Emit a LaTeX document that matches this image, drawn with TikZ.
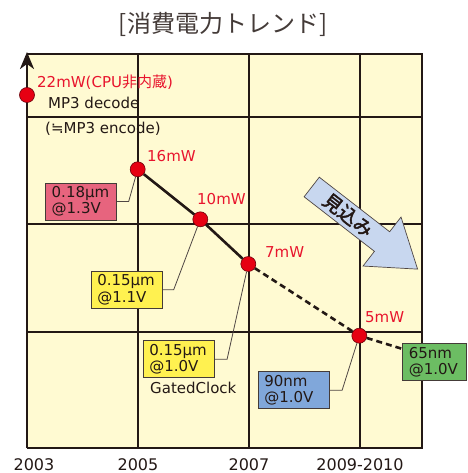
\documentclass[tikz,border=0pt]{standalone}
\usepackage{fontspec}
\setmainfont{DejaVu Sans}
\newfontfamily\jp[AutoFakeBold=2.5]{Noto Sans CJK JP}
\usetikzlibrary{arrows.meta}
\definecolor{chartbg}{RGB}{255,250,210}
\definecolor{inkdark}{RGB}{35,24,21}
\definecolor{dotred}{RGB}{230,0,18}
\definecolor{dotedge}{RGB}{110,0,10}
\definecolor{labelred}{RGB}{232,20,45}
\definecolor{boxpink}{RGB}{231,100,126}
\definecolor{boxyellow}{RGB}{255,241,80}
\definecolor{boxblue}{RGB}{128,167,218}
\definecolor{boxgreen}{RGB}{108,189,99}
\definecolor{arrowblue}{RGB}{200,215,239}
\tikzset{
  frame/.style={inkdark, line width=2.6pt},
  gridline/.style={inkdark, line width=1.2pt},
  trend/.style={inkdark, line width=2.6pt},
  lead/.style={inkdark!80, line width=0.8pt},
  dot/.style={circle, fill=dotred, draw=dotedge, line width=0.6pt, minimum size=15pt, inner sep=0pt},
  value/.style={labelred, anchor=west, inner sep=0pt, font=\fontsize{15}{15}\selectfont},
  note/.style={inkdark, anchor=west, inner sep=0pt, font=\fontsize{15}{15}\selectfont},
  year/.style={inkdark, anchor=base, inner sep=0pt, text depth=0pt, font=\fontsize{16}{16}\selectfont},
  procbox/.style={draw=inkdark!85, line width=0.8pt, minimum height=37pt, text width=59pt,
    inner xsep=6pt, inner ysep=0pt, align=left, text=inkdark, font=\fontsize{15}{16.5}\selectfont},
  forecast/.style={fill=arrowblue, draw=inkdark!80, line width=0.7pt}
}
\begin{document}
\begin{tikzpicture}[x=1pt,y=1pt]
	\useasboundingbox (0,0) rectangle (467,-473);
	%Titolo
	\node[inkdark!85, font=\jp\fontsize{24}{24}\selectfont] (title) at (223,-24) {[消費電力トレンド]};
	%Griglia
	\fill[chartbg] (27,-54) rectangle (422,-448);
	\foreach \x in {138,249,360} \draw[gridline] (\x,-54) -- (\x,-448);
	\foreach \y in {117,224,332} \draw[gridline] (27,-\y) -- (422,-\y);
	\draw[frame] (27,-448) -- (422,-448) -- (422,-54) -- (27,-54);
	\draw[frame, -{Stealth[length=17pt, width=14pt, inset=5pt]}] (27,-448) -- (27,-52);
	%Anni
	\node[year] (y03) at (34,-470) {2003};
	\node[year] (y05) at (138,-470) {2005};
	\node[year] (y07) at (249,-470) {2007};
	\node[year] (y09) at (360,-470) {2009-2010};
	%Freccia di previsione
	\begin{scope}[shift={(311.7,-187)}, rotate=-37.8]
		\draw[forecast] (0,12.4) -- (89,12.4) -- (89,31) -- (134,0) -- (89,-31) -- (89,-12.4) -- (0,-12.4) -- cycle;
		\node[rotate=-37.8, inkdark, inner sep=0pt, font=\jp\fontsize{19}{19}\selectfont\bfseries] (fc) at (46,0) {見込み};
	\end{scope}
	%Punti
	\node[dot] (p22) at (27,-95) {};
	\node[dot] (p16) at (137.7,-169.3) {};
	\node[dot] (p10) at (200.3,-219.3) {};
	\node[dot] (p7) at (248.3,-264) {};
	\node[dot] (p5) at (359.3,-335.7) {};
	%Etichette
	\node[value] (l22) at (37,-82) {22mW(CPU{\jp 非内蔵})};
	\node[note] (mp3d) at (48,-103) {MP3 decode};
	\node[note] (mp3e) at (45,-129) {(≒MP3 encode)};
	\node[value] (l16) at (147,-156) {16mW};
	\node[value] (l10) at (197,-199) {10mW};
	\node[value] (l7) at (265,-252) {7mW};
	\node[value] (l5) at (365,-317) {5mW};
	%Processi
	\node[procbox, fill=boxpink] (b18) at (81.2,-201.4) {0.18μm\\@1.3V};
	\node[procbox, fill=boxyellow] (b11) at (126.8,-289.7) {0.15μm\\@1.1V};
	\node[procbox, fill=boxyellow] (b10) at (178.8,-359.2) {0.15μm\\@1.0V};
	\node[note] (gc) at (150,-388) {GatedClock};
	\node[procbox, fill=boxblue] (b90) at (293.8,-390.3) {90nm\\@1.0V};
	\node[procbox, fill=boxgreen, text width=52pt] (b65) at (434.8,-362) {65nm\\@1.0V};
	%Andamento
	\draw[trend] (p16) -- (p10) -- (p7);
	\draw[trend, dash pattern=on 6pt off 4pt] (p7) -- (p5) -- (b65.158);
	%Richiami
	\draw[lead] (b18.east) -- ++(11.6,0) -- (p16);
	\draw[lead] (b11.east) -- ++(11,0) -- (p10);
	\draw[lead] (b10.east) -- ++(12.4,0) -- (p7);
	\draw[lead] (b90.east) -- ++(12.4,0) -- (p5);
\end{tikzpicture}
\end{document}
